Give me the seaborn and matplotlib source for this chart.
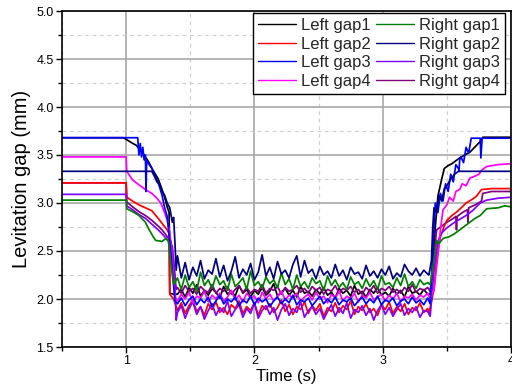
import numpy as np
import pandas as pd
import matplotlib
matplotlib.use("Agg")
import matplotlib.pyplot as plt
import seaborn as sns
from matplotlib.ticker import MultipleLocator, FormatStrFormatter
from matplotlib.lines import Line2D

# ---------------- data ----------------
series_names = ["Left gap1", "Left gap2", "Left gap3", "Left gap4",
                "Right gap1", "Right gap2", "Right gap3", "Right gap4"]
series_colors = ["#000000", "#FF0000", "#0000FF", "#FF00FF",
                 "#008000", "#000080", "#8000FF", "#800080"]

# descent phase (time, value)
lg1_t0 = [0.5, 0.98, 1.04, 1.08, 1.13, 1.17, 1.21, 1.25, 1.28, 1.30, 1.32, 1.335, 1.34, 1.37]
lg1_v0 = [3.68, 3.68, 3.63, 3.60, 3.52, 3.44, 3.34, 3.25, 3.14, 3.06, 2.96, 2.90, 2.06, 2.05]
lg2_t0 = [0.5, 1.00, 1.005, 1.05, 1.10, 1.15, 1.20, 1.25, 1.29, 1.32, 1.335, 1.34, 1.37]
lg2_v0 = [3.21, 3.21, 3.06, 3.02, 2.98, 2.95, 2.92, 2.84, 2.77, 2.72, 2.68, 2.05, 2.00]
lg3_t0 = [0.5, 1.09, 1.10, 1.11, 1.12, 1.13, 1.14, 1.15, 1.155, 1.16, 1.18, 1.20, 1.22, 1.24,
          1.26, 1.28, 1.30, 1.32, 1.34, 1.36, 1.38]
lg3_v0 = [3.68, 3.68, 3.50, 3.62, 3.48, 3.58, 3.45, 3.50, 3.12, 3.44, 3.40, 3.36, 3.30, 3.24,
          3.17, 3.08, 2.95, 2.86, 2.60, 2.30, 1.98]
lg4_t0 = [0.5, 1.00, 1.005, 1.05, 1.10, 1.15, 1.20, 1.24, 1.27, 1.30, 1.32, 1.34, 1.36, 1.38]
lg4_v0 = [3.48, 3.48, 3.33, 3.24, 3.19, 3.14, 3.10, 3.05, 3.00, 2.90, 2.82, 2.70, 2.40, 2.02]
rg1_t0 = [0.5, 1.00, 1.005, 1.05, 1.10, 1.15, 1.18, 1.21, 1.23, 1.28, 1.31, 1.33, 1.35, 1.37]
rg1_v0 = [3.03, 3.03, 2.94, 2.91, 2.87, 2.80, 2.72, 2.65, 2.61, 2.60, 2.63, 2.60, 2.35, 2.15]
rg2_t0 = [0.5, 1.20, 1.22, 1.24, 1.26, 1.28, 1.30, 1.32, 1.34, 1.36, 1.37, 1.38, 1.39]
rg2_v0 = [3.33, 3.33, 3.28, 3.22, 3.20, 3.12, 3.08, 3.00, 2.95, 2.80, 2.85, 2.60, 2.30]
rg3_t0 = [0.5, 1.00, 1.005, 1.05, 1.10, 1.15, 1.20, 1.25, 1.28, 1.32, 1.36, 1.38, 1.39]
rg3_v0 = [3.09, 3.09, 2.97, 2.93, 2.88, 2.84, 2.78, 2.72, 2.68, 2.62, 2.55, 2.20, 1.78]
rg4_t0 = [0.5, 1.00, 1.005, 1.05, 1.10, 1.15, 1.20, 1.25, 1.28, 1.32, 1.35, 1.37, 1.39]
rg4_v0 = [3.21, 3.21, 3.01, 2.96, 2.91, 2.87, 2.82, 2.76, 2.72, 2.65, 2.60, 2.40, 2.10]

# levitated (noisy) phase, sampled from 1.40 s to 3.35 s
noise_start, noise_end = 1.40, 3.35
lg1_vn = [2.05, 2.10, 2.02, 2.12, 2.06, 2.15, 2.03, 2.09, 2.04, 2.11, 2.07, 2.01, 2.13, 2.05, 2.08,
          2.03, 2.14, 2.06, 2.10, 2.02, 2.09, 2.05, 2.12, 2.04, 2.08, 2.16, 2.03, 2.07, 2.11, 2.04,
          2.09, 2.02, 2.13, 2.06, 2.08, 2.03, 2.10, 2.05, 2.12, 2.04, 2.07, 2.01, 2.11, 2.06, 2.09,
          2.03, 2.14, 2.05, 2.08, 2.02, 2.10, 2.06, 2.12, 2.04, 2.07, 2.03, 2.11, 2.05, 2.09, 2.02,
          2.13, 2.06, 2.08, 2.04, 2.10, 2.05]
lg2_vn = [1.88, 1.96, 1.85, 1.93, 1.99, 1.87, 1.92, 1.83, 1.95, 1.89, 1.97, 1.86, 1.91, 1.84, 1.94,
          1.90, 1.98, 1.85, 1.92, 1.88, 1.96, 1.83, 1.93, 1.89, 1.95, 1.86, 1.91, 1.99, 1.87, 1.94,
          1.84, 1.92, 1.89, 1.97, 1.85, 1.93, 1.88, 1.95, 1.82, 1.91, 1.87, 1.96, 1.86, 1.93, 1.89,
          1.98, 1.84, 1.92, 1.88, 1.95, 1.86, 1.90, 1.83, 1.94, 1.89, 1.97, 1.85, 1.92, 1.87, 1.95,
          1.84, 1.91, 1.88, 1.96, 1.86, 1.90]
lg3_vn = [1.95, 2.01, 1.93, 1.99, 2.03, 1.94, 2.00, 1.96, 2.02, 1.92, 1.98, 2.04, 1.95, 2.00, 1.97,
          2.02, 1.93, 1.99, 1.96, 2.03, 1.94, 2.01, 1.97, 2.00, 1.92, 1.98, 2.02, 1.95, 2.00, 1.96,
          2.04, 1.94, 1.99, 1.97, 2.01, 1.93, 1.98, 2.03, 1.95, 2.00, 1.96, 2.02, 1.94, 1.99, 1.97,
          2.01, 1.93, 1.98, 2.02, 1.95, 2.00, 1.96, 2.03, 1.94, 1.99, 1.97, 2.01, 1.93, 1.98, 2.00,
          1.95, 2.02, 1.96, 1.99, 1.94, 2.01]
lg4_vn = [1.98, 2.05, 2.00, 2.07, 1.96, 2.03, 2.01, 2.08, 1.97, 2.04, 2.00, 2.06, 1.98, 2.02, 2.09,
          1.99, 2.04, 1.97, 2.06, 2.01, 2.03, 1.96, 2.07, 2.00, 2.05, 1.98, 2.03, 2.08, 1.99, 2.04,
          2.01, 2.06, 1.97, 2.02, 2.05, 1.99, 2.07, 2.00, 2.03, 1.96, 2.05, 2.01, 2.08, 1.98, 2.03,
          2.00, 2.06, 1.97, 2.04, 2.01, 2.07, 1.99, 2.02, 2.05, 1.98, 2.04, 2.00, 2.06, 1.97, 2.03,
          2.01, 2.05, 1.99, 2.04, 2.02, 2.06]
rg1_vn = [2.22, 2.10, 2.25, 2.12, 2.18, 2.08, 2.28, 2.14, 2.20, 2.11, 2.24, 2.15, 2.19, 2.09, 2.26,
          2.13, 2.17, 2.22, 2.10, 2.29, 2.14, 2.18, 2.11, 2.23, 2.16, 2.20, 2.12, 2.27, 2.15, 2.21,
          2.10, 2.25, 2.13, 2.18, 2.11, 2.22, 2.16, 2.19, 2.09, 2.24, 2.14, 2.20, 2.12, 2.17, 2.10,
          2.23, 2.15, 2.18, 2.11, 2.21, 2.13, 2.19, 2.10, 2.24, 2.15, 2.17, 2.12, 2.22, 2.14, 2.26,
          2.13, 2.18, 2.11, 2.20, 2.15, 2.17]
rg2_vn = [2.45, 2.22, 2.38, 2.20, 2.33, 2.24, 2.40, 2.21, 2.30, 2.26, 2.42, 2.23, 2.35, 2.19, 2.29,
          2.44, 2.22, 2.31, 2.25, 2.37, 2.20, 2.28, 2.46, 2.24, 2.33, 2.21, 2.39, 2.26, 2.30, 2.22,
          2.36, 2.45, 2.23, 2.40, 2.27, 2.31, 2.21, 2.34, 2.25, 2.29, 2.22, 2.36, 2.24, 2.30, 2.20,
          2.33, 2.26, 2.28, 2.21, 2.35, 2.24, 2.29, 2.22, 2.31, 2.25, 2.34, 2.21, 2.27, 2.23, 2.36,
          2.29, 2.25, 2.32, 2.24, 2.30, 2.26]
rg3_vn = [1.86, 1.93, 1.80, 1.90, 1.97, 1.84, 1.92, 1.79, 1.88, 1.95, 1.83, 1.91, 1.86, 1.98, 1.82,
          1.89, 1.94, 1.81, 1.90, 1.85, 1.96, 1.80, 1.88, 1.93, 1.84, 1.91, 1.78, 1.89, 1.95, 1.83,
          1.90, 1.86, 1.97, 1.81, 1.88, 1.92, 1.84, 1.90, 1.79, 1.87, 1.94, 1.82, 1.91, 1.85, 1.96,
          1.80, 1.89, 1.86, 1.93, 1.83, 1.90, 1.78, 1.88, 1.94, 1.84, 1.91, 1.82, 1.89, 1.95, 1.83,
          1.90, 1.86, 1.92, 1.81, 1.88, 1.87]
rg4_vn = [2.12, 2.06, 2.14, 2.08, 2.11, 2.05, 2.13, 2.09, 2.07, 2.15, 2.06, 2.11, 2.08, 2.13, 2.05,
          2.10, 2.14, 2.07, 2.12, 2.06, 2.10, 2.08, 2.15, 2.06, 2.11, 2.09, 2.13, 2.05, 2.12, 2.08,
          2.10, 2.14, 2.07, 2.11, 2.06, 2.13, 2.09, 2.12, 2.05, 2.10, 2.08, 2.14, 2.06, 2.11, 2.09,
          2.13, 2.07, 2.10, 2.05, 2.12, 2.08, 2.14, 2.06, 2.11, 2.09, 2.13, 2.07, 2.10, 2.06, 2.12,
          2.08, 2.15, 2.07, 2.11, 2.09, 2.12]

# rise phase (time, value)
lg1_t1 = [3.37, 3.39, 3.41, 3.43, 3.46, 3.48, 3.51, 3.54, 3.60, 3.68, 3.76, 3.78, 4.0]
lg1_v1 = [2.05, 2.30, 2.75, 3.07, 3.25, 3.36, 3.39, 3.41, 3.47, 3.53, 3.64, 3.685, 3.685]
lg2_t1 = [3.36, 3.40, 3.42, 3.45, 3.48, 3.50, 3.54, 3.58, 3.62, 3.65, 3.70, 3.73, 3.77, 3.85, 4.0]
lg2_v1 = [1.85, 2.10, 2.41, 2.65, 2.76, 2.82, 2.87, 2.91, 2.96, 3.00, 3.04, 3.07, 3.14, 3.15, 3.15]
lg3_t1 = [3.37, 3.39, 3.41, 3.43, 3.45, 3.47, 3.49, 3.51, 3.53, 3.55, 3.57, 3.59, 3.595, 3.60,
          3.61, 3.63, 3.65, 3.67, 3.69, 3.76, 3.765, 3.775, 4.0]
lg3_v1 = [1.95, 2.48, 3.00, 2.90, 3.10, 3.02, 3.20, 3.12, 3.30, 3.22, 3.40, 3.36, 3.33, 3.45,
          3.48, 3.42, 3.58, 3.52, 3.675, 3.675, 3.47, 3.675, 3.675]
lg4_t1 = [3.37, 3.40, 3.43, 3.45, 3.47, 3.50, 3.52, 3.55, 3.57, 3.60, 3.62, 3.65, 3.68, 3.72,
          3.75, 3.77, 3.81, 3.90, 4.0]
lg4_v1 = [2.00, 2.10, 2.45, 2.72, 2.93, 2.98, 3.06, 3.02, 3.12, 3.14, 3.20, 3.18, 3.26, 3.28,
          3.30, 3.34, 3.38, 3.40, 3.41]
rg1_t1 = [3.37, 3.40, 3.42, 3.44, 3.47, 3.52, 3.56, 3.60, 3.64, 3.68, 3.72, 3.76, 3.81, 3.90, 3.95, 4.0]
rg1_v1 = [2.15, 2.40, 2.61, 2.58, 2.63, 2.65, 2.68, 2.72, 2.76, 2.80, 2.84, 2.87, 2.94, 2.95, 2.97, 2.96]
rg2_t1 = [3.36, 3.38, 3.39, 3.40, 3.42, 3.44, 3.46, 3.48, 3.50, 3.53, 3.56, 3.59, 4.0]
rg2_v1 = [2.25, 2.40, 2.75, 2.95, 2.90, 3.08, 3.02, 3.15, 3.18, 3.25, 3.30, 3.33, 3.33]
rg3_t1 = [3.37, 3.40, 3.43, 3.46, 3.50, 3.55, 3.60, 3.65, 3.70, 3.76, 3.81, 3.90, 4.0]
rg3_v1 = [1.82, 2.30, 2.60, 2.69, 2.74, 2.79, 2.83, 2.87, 2.92, 3.00, 3.03, 3.05, 3.06]
rg4_t1 = [3.37, 3.40, 3.42, 3.46, 3.50, 3.54, 3.57, 3.575, 3.58, 3.62, 3.66, 3.665, 3.67, 3.72,
          3.77, 3.78, 3.85, 4.0]
rg4_v1 = [2.08, 2.45, 2.72, 2.76, 2.80, 2.83, 2.86, 2.72, 2.86, 2.90, 2.93, 2.80, 2.95, 2.98,
          3.02, 3.10, 3.12, 3.12]

x_ticks = [1, 2, 3, 4]
y_ticks = [1.5, 2.0, 2.5, 3.0, 3.5, 4.0, 4.5, 5.0]

# ---------------- assemble long-form table ----------------
parts = {
    "Left gap1": (lg1_t0, lg1_v0, lg1_vn, lg1_t1, lg1_v1),
    "Left gap2": (lg2_t0, lg2_v0, lg2_vn, lg2_t1, lg2_v1),
    "Left gap3": (lg3_t0, lg3_v0, lg3_vn, lg3_t1, lg3_v1),
    "Left gap4": (lg4_t0, lg4_v0, lg4_vn, lg4_t1, lg4_v1),
    "Right gap1": (rg1_t0, rg1_v0, rg1_vn, rg1_t1, rg1_v1),
    "Right gap2": (rg2_t0, rg2_v0, rg2_vn, rg2_t1, rg2_v1),
    "Right gap3": (rg3_t0, rg3_v0, rg3_vn, rg3_t1, rg3_v1),
    "Right gap4": (rg4_t0, rg4_v0, rg4_vn, rg4_t1, rg4_v1),
}
frames = []
for name, (t0, v0, vn, t1, v1) in parts.items():
    tn = np.linspace(noise_start, noise_end, len(vn))
    t = np.concatenate([t0, tn, t1])
    v = np.concatenate([v0, vn, v1])
    frames.append(pd.DataFrame({"Time": t, "Gap": v, "Series": name}))
df = pd.concat(frames, ignore_index=True)

# ---------------- plot ----------------
sns.set_theme(style="white")
plt.rcParams["font.family"] = ["Liberation Sans", "DejaVu Sans"]

fig = plt.figure(figsize=(5.12, 3.91), dpi=100)
ax = fig.add_axes([62 / 512, 1 - 347 / 391, (511 - 62) / 512, (347 - 11) / 391])

draw_order = ["Left gap1", "Right gap4", "Left gap2", "Right gap3", "Left gap4", "Left gap3",
              "Right gap1", "Right gap2"]
palette = dict(zip(series_names, series_colors))
for name in draw_order:
    sub = df[df["Series"] == name]
    sns.lineplot(data=sub, x="Time", y="Gap", color=palette[name], estimator=None,
                 sort=False, linewidth=1.25, ax=ax, legend=False)

ax.set_xlim(0.5, 4.0)
ax.set_ylim(1.5, 5.0)
ax.set_xticks(x_ticks)
ax.set_yticks(y_ticks)
ax.xaxis.set_minor_locator(MultipleLocator(0.5))
ax.yaxis.set_minor_locator(MultipleLocator(0.25))
ax.yaxis.set_major_formatter(FormatStrFormatter("%.1f"))
ax.xaxis.set_major_formatter(FormatStrFormatter("%d"))

ax.set_axisbelow(True)
ax.grid(which="major", color="#a8a8a8", linewidth=1.2, linestyle="-")
ax.grid(which="minor", color="#d0d0d0", linewidth=0.9, linestyle=(0, (3, 3)))

for s in ax.spines.values():
    s.set_visible(True)
    s.set_color("black")
    s.set_linewidth(1.2)

ax.tick_params(which="major", direction="out", length=4, width=1, color="black",
               labelsize=9, labelcolor="black", bottom=True, left=True, top=False, right=False, pad=2)
ax.tick_params(which="minor", direction="out", length=3, width=1, color="black",
               bottom=True, left=True, top=False, right=False)

ax.set_xlabel("Time (s)", fontsize=12, labelpad=1, color="black")
ax.set_ylabel("Levitation gap (mm)", fontsize=14.5, labelpad=4, color="black")

handles = [Line2D([0], [0], color=c, lw=1.0) for c in series_colors]
leg = ax.legend(handles, series_names, ncol=2, loc="upper right",
                bbox_to_anchor=((505 - 62) / 449, 1 - (13 - 11) / 336),
                frameon=True, fancybox=False, framealpha=1, edgecolor="black",
                fontsize=12, handlelength=2.3, handletextpad=0.3, columnspacing=0.3,
                labelspacing=0.22, borderpad=0.3, borderaxespad=0)
leg.get_frame().set_linewidth(1.0)

fig.savefig("out.png", dpi=100)
